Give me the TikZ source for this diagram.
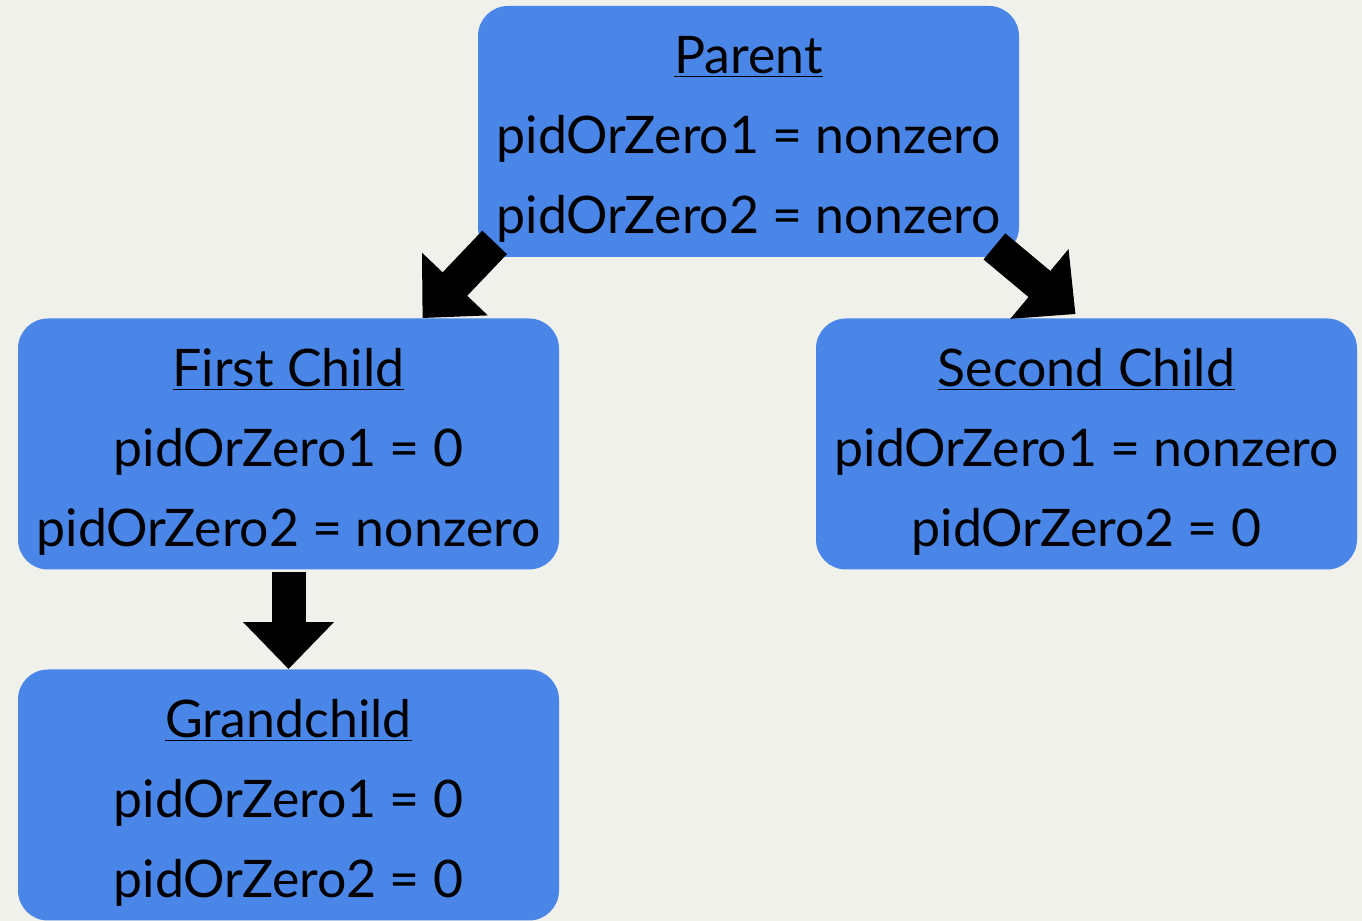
\documentclass[tikz,border=0pt]{standalone}
\usepackage{fontspec}
\setmainfont{Lato}
\usepackage{xcolor}
\usetikzlibrary{arrows.meta}
\definecolor{boxblue}{HTML}{4A86E8}
\definecolor{paper}{HTML}{F1F1EC}
\newcommand{\proctitle}[1]{\rule{0pt}{26.5pt}\underline{#1}}

\begin{document}
\begin{tikzpicture}[x=0.5pt,y=0.5pt,
  proc/.style={fill=boxblue, rounded corners=15pt,
              minimum width=270.5pt, minimum height=125.5pt,
              inner sep=0pt, align=center,
              font=\fontsize{25.9}{40}\selectfont},
  arr/.style={-{Triangle[length=23.5pt,width=44pt]}, line width=17pt}
]
\fill[paper] (0,0) rectangle (1362,921);
\useasboundingbox (0,0) rectangle (1362,921);
\node[proc] (par) at (748.5,789.5) {\proctitle{Parent}\\pidOrZero1 = nonzero\\pidOrZero2 = nonzero};
\node[proc] (fc)  at (288.5,477)   {\proctitle{First Child}\\pidOrZero1 = 0\\pidOrZero2 = nonzero};
\node[proc] (sc)  at (1086.5,477)  {\proctitle{Second Child}\\pidOrZero1 = nonzero\\pidOrZero2 = 0};
\node[proc] (gc)  at (288.5,126)   {\proctitle{Grandchild}\\pidOrZero1 = 0\\pidOrZero2 = 0};
\draw[arr]([xshift=8.5pt,yshift=7.5pt]par.south west)--([xshift=67pt]fc.north);
\draw[arr]([xshift=-12.5pt,yshift=5.5pt]par.south east)--([xshift=-5.5pt,yshift=2pt]sc.north);
\draw[arr]([yshift=-1pt]fc.south)--(gc.north);
\end{tikzpicture}
\end{document}
